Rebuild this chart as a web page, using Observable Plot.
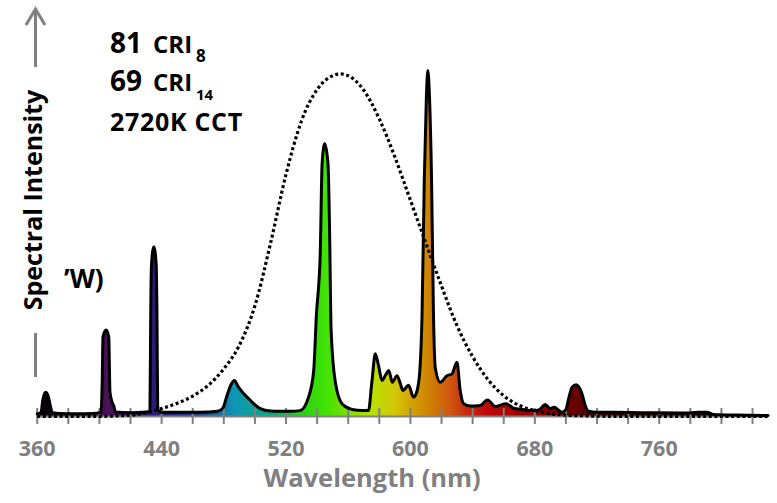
<!DOCTYPE html>
<html>
<head>
<meta charset="utf-8">
<script src="https://cdn.jsdelivr.net/npm/d3@7"></script>
<script src="https://cdn.jsdelivr.net/npm/@observablehq/plot@0.6"></script>
<style>
  html, body { margin: 0; padding: 0; background: #fff; }
  #chart svg { display: block; }
</style>
</head>
<body>
<div id="chart"></div>
<script>
// Emission spectrum of a compact fluorescent lamp (relative units, 611 nm line = 1)
const wavelength = [
  360, 362.5, 363.5, 365.3, 367, 368.5, 369.6, 375, 385, 395,
  401, 401.8, 402.3, 404.3, 406, 406.8, 408.2, 409.3, 410.3, 420,
  430, 432.5, 433, 433.5, 435, 436.5, 437, 437.5, 440, 450,
  460, 470, 476, 479.5, 482, 485, 486.8, 489, 492, 495,
  499, 503.5, 510, 516, 523, 529, 534.5, 537.8, 539.5, 542,
  543.2, 544.9, 547, 548, 549, 551.7, 556, 561.4, 566, 572,
  573, 575.3, 577.4, 579.5, 581.7, 584, 586, 588.4, 591.4, 593.5,
  595.2, 598.8, 602, 604, 605.9, 607.5, 608.9, 610.3, 611.2, 612.2,
  613.6, 614.8, 616, 619.2, 623.5, 626.7, 629.9, 632, 634.2, 638.5,
  644.9, 649.6, 654.5, 661.6, 666.3, 672, 679.2, 683, 686.7, 689.9,
  692.5, 697.4, 700, 701.7, 704, 706.6, 710.3, 712.5, 714.5, 720,
  730, 750, 777, 785, 790.6, 795, 810, 830
];
const intensity = [
  0.008, 0.012, 0.045, 0.070, 0.060, 0.030, 0.012, 0.009, 0.008, 0.009,
  0.012, 0.100, 0.230, 0.250, 0.230, 0.070, 0.041, 0.030, 0.013, 0.011,
  0.013, 0.015, 0.300, 0.440, 0.490, 0.440, 0.300, 0.020, 0.012, 0.012,
  0.012, 0.013, 0.015, 0.025, 0.060, 0.095, 0.104, 0.088, 0.070, 0.056,
  0.038, 0.023, 0.016, 0.015, 0.015, 0.017, 0.056, 0.133, 0.290, 0.470,
  0.730, 0.788, 0.730, 0.540, 0.250, 0.100, 0.037, 0.022, 0.018, 0.017,
  0.017, 0.104, 0.181, 0.147, 0.104, 0.120, 0.133, 0.099, 0.118, 0.095,
  0.075, 0.090, 0.056, 0.070, 0.124, 0.300, 0.680, 0.930, 1.000, 0.930,
  0.680, 0.300, 0.140, 0.099, 0.118, 0.123, 0.157, 0.075, 0.037, 0.030,
  0.032, 0.048, 0.029, 0.037, 0.024, 0.020, 0.017, 0.020, 0.035, 0.023,
  0.027, 0.012, 0.020, 0.051, 0.085, 0.092, 0.066, 0.030, 0.015, 0.012,
  0.012, 0.011, 0.010, 0.012, 0.012, 0.006, 0.004, 0.003
];

// Photopic luminosity curve V(λ), scaled to the same axis
const vWavelength = [360, 380, 400, 420, 430, 440, 450, 460, 470, 480, 490, 500, 510, 520, 530, 540, 550, 555, 560, 570, 580, 590, 600, 610, 620, 630, 640, 650, 660, 670, 680, 690, 700, 720, 740, 830];
const vValue      = [0, 0, 0.0004, 0.004, 0.011, 0.023, 0.038, 0.059, 0.090, 0.138, 0.206, 0.320, 0.500, 0.700, 0.855, 0.945, 0.985, 0.990, 0.985, 0.943, 0.860, 0.750, 0.625, 0.500, 0.377, 0.262, 0.173, 0.106, 0.060, 0.032, 0.017, 0.008, 0.004, 0.001, 0, 0];

// Axis ticks
const minorTicks = d3.range(360, 821, 20);
const tickLabels = [360, 440, 520, 600, 680, 760];

// Colour of light along the wavelength axis
const gradientNm    = [360, 388, 405, 436, 462, 487, 510, 530, 545, 560, 575, 590, 600, 611, 625, 635, 648, 665, 685, 706, 730, 770, 830];
const gradientColor = ["#050005", "#150318", "#4a1258", "#2c1a7c", "#1a3a8a", "#1096b4", "#0aa882", "#2bcf14", "#3ee204", "#7ce000", "#b6e000", "#d2c808", "#d2a600", "#d08600", "#d05a10", "#c83010", "#c00a0a", "#ae0000", "#8a0000", "#6a0000", "#360000", "#120000", "#000000"];

const spd = wavelength.map((w, i) => ({w, v: intensity[i]}));
const vCurve = vWavelength.map((w, i) => ({w, v: vValue[i]}));

const font = "'Open Sans', 'DejaVu Sans', sans-serif";
const grey = "#808080";

const plot = Plot.plot({
  width: 777,
  height: 503,
  marginLeft: 36.7,
  marginRight: 9.4,
  marginTop: 70,
  marginBottom: 87,
  x: {domain: [360, 830], axis: null},
  y: {domain: [0, 1], axis: null},
  style: {fontFamily: font, overflow: "visible", background: "white"},
  marks: [
    Plot.areaY(spd, {x: "w", y: "v", fill: "url(#spectrum-fill)", curve: "monotone-x"}),
    Plot.ruleY([0], {stroke: grey, strokeWidth: 2}),
    Plot.ruleX(minorTicks, {x: d => d, y1: -0.023, y2: 0.023, stroke: grey, strokeWidth: 2}),
    Plot.line(spd, {x: "w", y: "v", stroke: "black", strokeWidth: 3, curve: "monotone-x", strokeLinejoin: "round"}),
    Plot.line(vCurve, {x: "w", y: "v", stroke: "black", strokeWidth: 3.2, strokeDasharray: "3 2.6", strokeLinecap: "butt", curve: "monotone-x"}),
    Plot.text(tickLabels, {x: d => d, y: 0, dy: 32.5, text: d => String(d), fill: grey, fontSize: 21.5, fontWeight: "bold"}),
    Plot.text(["Wavelength (nm)"], {frameAnchor: "bottom", dx: -30.5, dy: 70, fill: grey, fontSize: 25.5, fontWeight: "bold"})
  ]
});

// Wavelength-coloured gradient for the area under the spectrum
const xs = plot.scale("x");
const svg = d3.select(plot);
const grad = svg.insert("defs", ":first-child")
  .append("linearGradient")
  .attr("id", "spectrum-fill")
  .attr("gradientUnits", "userSpaceOnUse")
  .attr("x1", xs.apply(360)).attr("x2", xs.apply(830))
  .attr("y1", 0).attr("y2", 0);
gradientNm.forEach((nm, i) => {
  grad.append("stop")
    .attr("offset", (nm - 360) / (830 - 360))
    .attr("stop-color", gradientColor[i]);
});

// Y-axis label with arrow
const yAxis = svg.append("g").attr("fill", "none").attr("stroke", grey).attr("stroke-width", 3);
yAxis.append("line").attr("x1", 35.5).attr("x2", 35.5).attr("y1", 67).attr("y2", 10);
yAxis.append("path").attr("d", "M26,25 L35.5,9 L45,25").attr("stroke-linejoin", "miter");
yAxis.append("line").attr("x1", 35.5).attr("x2", 35.5).attr("y1", 333).attr("y2", 377);

svg.append("text")
  .attr("transform", "translate(42,200) rotate(-90)")
  .attr("text-anchor", "middle")
  .attr("font-family", font)
  .attr("font-weight", "bold")
  .attr("font-size", 25)
  .attr("fill", "black")
  .text("Spectral Intensity");

svg.append("text")
  .attr("x", 64).attr("y", 288)
  .attr("text-anchor", "start")
  .attr("font-family", font)
  .attr("font-weight", "bold")
  .attr("font-size", 26)
  .attr("fill", "black")
  .text("\u2019W)");

// Colour rendering figures
const info = svg.append("g")
  .attr("text-anchor", "start")
  .attr("font-family", font).attr("font-weight", "bold").attr("fill", "black");
const l1 = info.append("text").attr("x", 110).attr("y", 53);
l1.append("tspan").attr("font-size", 28).text("81");
l1.append("tspan").attr("x", 153).attr("font-size", 24).text("CRI");
l1.append("tspan").attr("x", 196).attr("dy", 8.5).attr("font-size", 17).text("8");
const l2 = info.append("text").attr("x", 110).attr("y", 91);
l2.append("tspan").attr("font-size", 28).text("69");
l2.append("tspan").attr("x", 153).attr("font-size", 24).text("CRI");
l2.append("tspan").attr("x", 196).attr("dy", 9).attr("font-size", 15).text("14");
info.append("text").attr("x", 110).attr("y", 131)
  .attr("font-size", 25).attr("letter-spacing", 0.7).text("2720K CCT");

document.getElementById("chart").appendChild(plot);
</script>
</body>
</html>
